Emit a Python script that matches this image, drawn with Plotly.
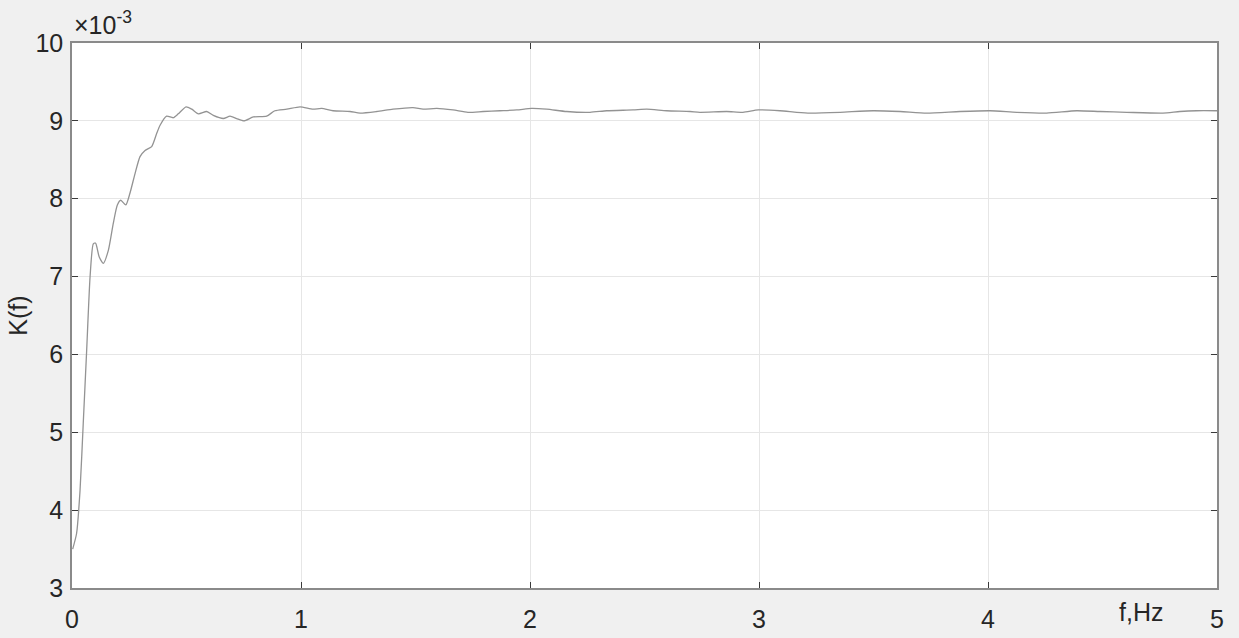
import plotly.graph_objects as go

# Frequency (Hz) and K(f) values (in units of 1e-3)
freq = [0.003, 0.02, 0.035, 0.049, 0.064, 0.079, 0.093, 0.103, 0.119, 0.137,
        0.159, 0.18, 0.198, 0.213, 0.235, 0.253, 0.275, 0.297, 0.319, 0.348,
        0.37, 0.384, 0.413, 0.442, 0.464, 0.498, 0.523, 0.552, 0.588, 0.617,
        0.661, 0.69, 0.719, 0.751, 0.792, 0.85, 0.886, 0.938, 0.996, 1.052,
        1.09, 1.14, 1.214, 1.258, 1.331, 1.402, 1.489, 1.533, 1.593, 1.664,
        1.729, 1.795, 1.869, 1.942, 2.007, 2.073, 2.16, 2.262, 2.335, 2.45,
        2.51, 2.597, 2.699, 2.742, 2.859, 2.93, 2.997, 3.092, 3.165, 3.223,
        3.354, 3.498, 3.616, 3.732, 3.878, 4.009, 4.125, 4.256, 4.387, 4.489,
        4.606, 4.764, 4.838, 4.911, 5.0]
kval = [3.50, 3.70, 4.25, 5.11, 6.05, 7.00, 7.42, 7.43, 7.25, 7.17,
        7.34, 7.68, 7.92, 7.98, 7.92, 8.07, 8.32, 8.54, 8.62, 8.67,
        8.84, 8.94, 9.06, 9.04, 9.09, 9.18, 9.15, 9.09, 9.12, 9.07,
        9.03, 9.06, 9.03, 9.00, 9.05, 9.06, 9.13, 9.15, 9.18, 9.15,
        9.16, 9.13, 9.12, 9.10, 9.12, 9.15, 9.17, 9.15, 9.16, 9.14,
        9.11, 9.12, 9.13, 9.14, 9.16, 9.15, 9.12, 9.11, 9.13, 9.14,
        9.15, 9.13, 9.12, 9.11, 9.12, 9.11, 9.14, 9.13, 9.11, 9.10,
        9.11, 9.13, 9.12, 9.10, 9.12, 9.13, 9.11, 9.10, 9.13, 9.12,
        9.11, 9.10, 9.12, 9.13, 9.13]

xticks = [0, 1, 2, 3, 4, 5]
yticks = [3, 4, 5, 6, 7, 8, 9, 10]

font = "Liberation Sans, Arial, sans-serif"
txt = "#262626"
fs = 25

fig = go.Figure()
fig.add_trace(go.Scatter(x=freq, y=kval, mode="lines",
                         line=dict(color="#939393", width=1.3, shape="spline", smoothing=0.6),
                         hoverinfo="x+y", showlegend=False))

axis_common = dict(showline=True, linecolor="#8a8a8a", linewidth=1.5, mirror="ticks",
                   ticks="inside", ticklen=6, tickcolor="#3a3a3a", tickwidth=1.2,
                   showgrid=True, gridcolor="#e6e6e6", gridwidth=1, zeroline=False,
                   automargin=False,
                   tickfont=dict(family=font, size=fs, color=txt))

fig.update_layout(
    width=1239, height=638,
    paper_bgcolor="#f0f0f0", plot_bgcolor="white",
    margin=dict(l=72, r=22, t=43, b=50),
    xaxis=dict(range=[0, 5], tickvals=xticks, ticktext=[str(v) for v in xticks],
               ticklabelstandoff=8, **axis_common),
    yaxis=dict(range=[3, 10], tickvals=yticks, ticktext=[str(v) for v in yticks],
               ticklabelstandoff=2,
               title=dict(text="K(f)", font=dict(family=font, size=fs, color=txt), standoff=1),
               **axis_common),
    annotations=[
        dict(text="×10<sup>-3</sup>", xref="paper", yref="paper", x=0.0, y=1.0,
             xanchor="left", yanchor="bottom", showarrow=False, yshift=2,
             font=dict(family=font, size=25, color=txt)),
        dict(text="f,Hz", xref="paper", yref="paper", x=0.955, y=0.0,
             xanchor="right", yanchor="top", showarrow=False, yshift=-8,
             font=dict(family=font, size=fs, color=txt)),
    ],
)

fig.write_html("out.html", config={"displayModeBar": False},
               post_script="document.body.style.margin='0';")
